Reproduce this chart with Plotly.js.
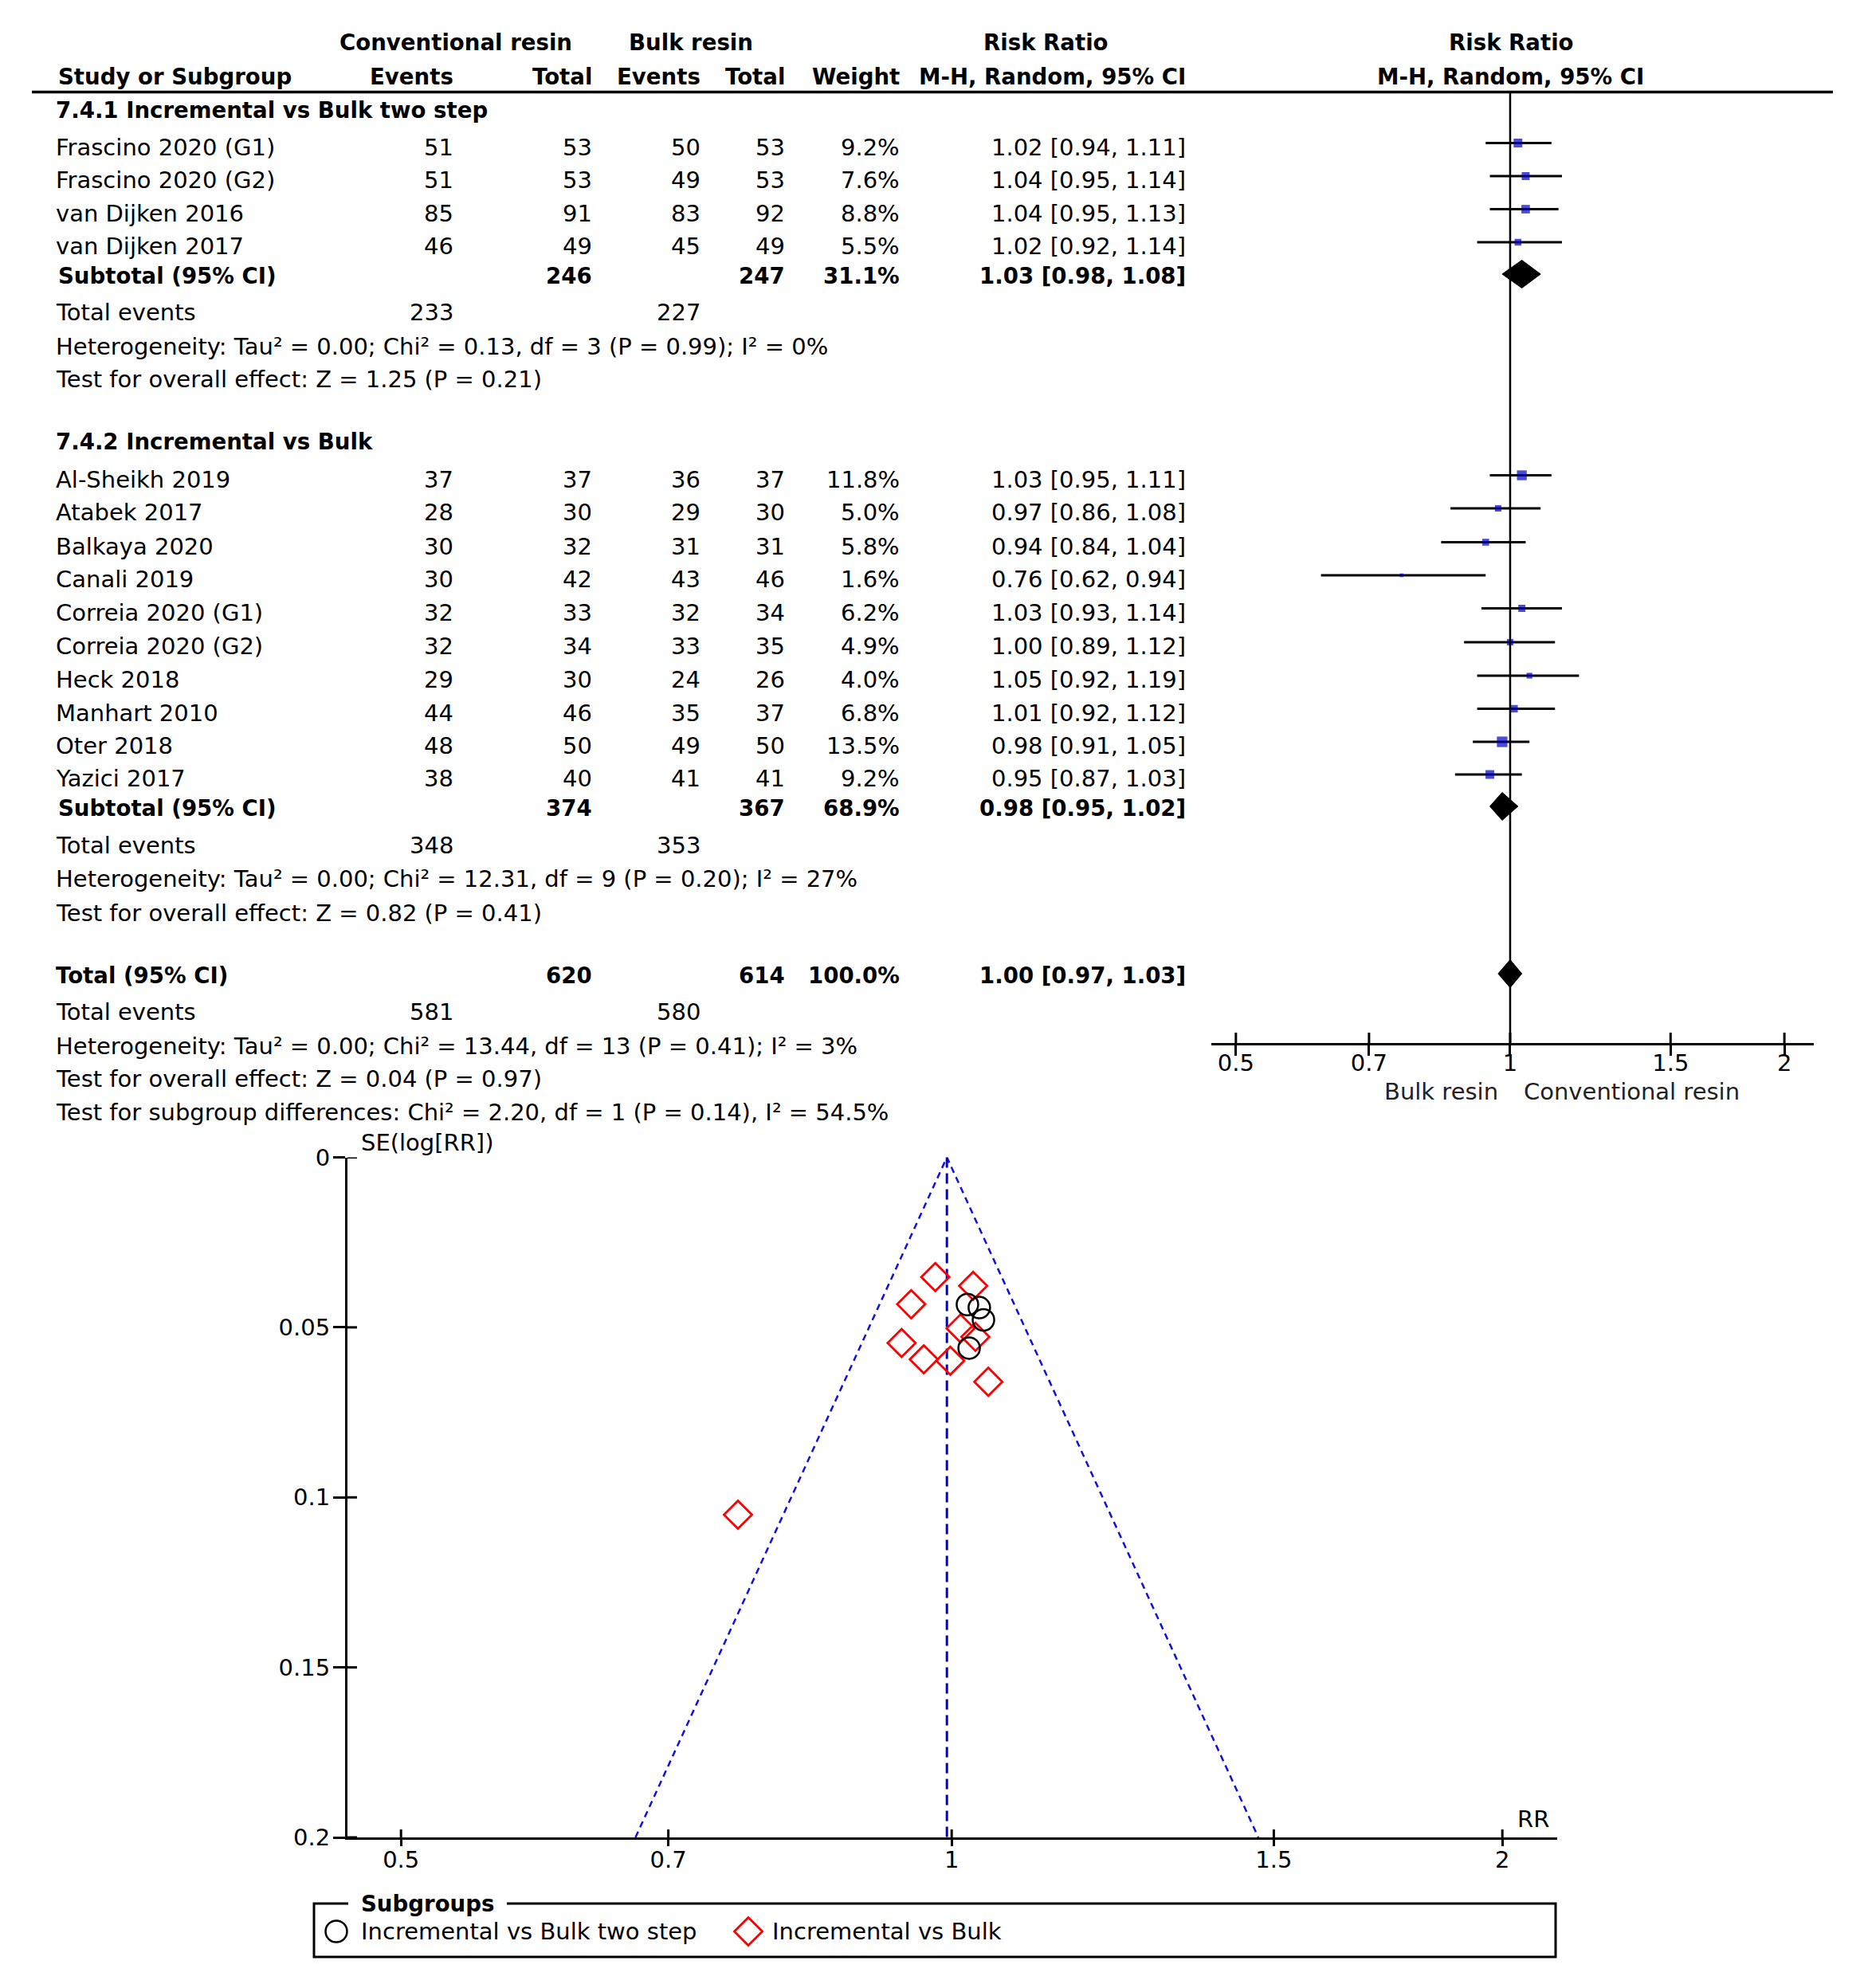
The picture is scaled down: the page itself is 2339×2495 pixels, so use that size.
<!DOCTYPE html>
<html><head><meta charset="utf-8">
<script src="https://cdn.plot.ly/plotly-3.0.1.min.js"></script>
<style>html,body{margin:0;padding:0;background:#fff;}#chart{width:2339px;height:2495px;}</style>
</head><body><div id="chart"></div>
<script>
// ---------------- DATA ----------------
const studies = ["Frascino 2020 (G1)","Frascino 2020 (G2)","van Dijken 2016","van Dijken 2017",
  "Al-Sheikh 2019","Atabek 2017","Balkaya 2020","Canali 2019","Correia 2020 (G1)","Correia 2020 (G2)",
  "Heck 2018","Manhart 2010","Oter 2018","Yazici 2017"];
const subgroupOf = [0,0,0,0,1,1,1,1,1,1,1,1,1,1];
const convEvents = [51,51,85,46,37,28,30,30,32,32,29,44,48,38];
const convTotal  = [53,53,91,49,37,30,32,42,33,34,30,46,50,40];
const bulkEvents = [50,49,83,45,36,29,31,43,32,33,24,35,49,41];
const bulkTotal  = [53,53,92,49,37,30,31,46,34,35,26,37,50,41];
const weights    = [9.2,7.6,8.8,5.5,11.8,5.0,5.8,1.6,6.2,4.9,4.0,6.8,13.5,9.2];
const rr     = [1.02,1.04,1.04,1.02,1.03,0.97,0.94,0.76,1.03,1.00,1.05,1.01,0.98,0.95];
const rrLow  = [0.94,0.95,0.95,0.92,0.95,0.86,0.84,0.62,0.93,0.89,0.92,0.92,0.91,0.87];
const rrHigh = [1.11,1.14,1.13,1.14,1.11,1.08,1.04,0.94,1.14,1.12,1.19,1.12,1.05,1.03];

const subgroupNames = ["7.4.1 Incremental vs Bulk two step","7.4.2 Incremental vs Bulk"];
const subConvTotal = [246,374];
const subBulkTotal = [247,367];
const subWeight = [31.1,68.9];
const subRR = [1.03,0.98];
const subLow = [0.98,0.95];
const subHigh = [1.08,1.02];
const subConvEvents = [233,348];
const subBulkEvents = [227,353];
const subHet = ["Heterogeneity: Tau² = 0.00; Chi² = 0.13, df = 3 (P = 0.99); I² = 0%",
                "Heterogeneity: Tau² = 0.00; Chi² = 12.31, df = 9 (P = 0.20); I² = 27%"];
const subTest = ["Test for overall effect: Z = 1.25 (P = 0.21)",
                 "Test for overall effect: Z = 0.82 (P = 0.41)"];

const totConvTotal = 620, totBulkTotal = 614, totWeight = 100.0;
const totRR = 1.00, totLow = 0.97, totHigh = 1.03;
const totConvEvents = 581, totBulkEvents = 580;
const totHet = "Heterogeneity: Tau² = 0.00; Chi² = 13.44, df = 13 (P = 0.41); I² = 3%";
const totTest = "Test for overall effect: Z = 0.04 (P = 0.97)";
const subDiffText = "Test for subgroup differences: Chi² = 2.20, df = 1 (P = 0.14), I² = 54.5%";

const forestTicks = [0.5,0.7,1,1.5,2];
const forestTickText = ["0.5","0.7","1","1.5","2"];

// funnel plot values (RR and SE(log RR) per study)
const funnelRR = [1.0200,1.0408,1.0354,1.0222,1.0274,0.9655,0.9389,0.7641,1.0303,0.9982,1.0472,1.0112,0.9796,0.9503];
const funnelSE = [0.0433,0.0478,0.0442,0.0561,0.0378,0.0594,0.0546,0.1051,0.0528,0.0598,0.0660,0.0503,0.0352,0.0432];
const pooledRR = 0.994;
const funnelMaxSE = 0.2;
const funnelXTicks = [0.5,0.7,1,1.5,2];
const funnelXTickText = ["0.5","0.7","1","1.5","2"];
const funnelYTicks = [0,0.05,0.1,0.15,0.2];
const funnelYTickText = ["0","0.05","0.1","0.15","0.2"];
const legendLabels = ["Incremental vs Bulk two step","Incremental vs Bulk"];

// ---------------- LAYOUT GEOMETRY (pixels) ----------------
const W = 2339, H = 2495;
const FONT = "DejaVu Sans";
const FS = 29, FSB = 27.6;
const colName = 69, colCE = 570, colCT = 744, colBE = 880, colBT = 986, colW = 1130, colRR = 1489;
const rowsY = [184.5,226,267.5,309, 601.5,643,685.5,727,768.5,811,853,894.5,936,977];
const headY = [138,554], subY = [346,1014], evY = [391.5,1061], hetY = [434.5,1103], testY = [476,1145.5];
const totY = 1224, totEvY = 1270, totHetY = 1312.5, totTestY = 1354, diffY = 1395.5;
const ruleY = 115.5, forestAxisY = 1309;
const fx0 = 1520, fx1 = 2276, fLogRange = [-0.328, 0.3333];
const px0 = 436, px1 = 1954, py0 = 1452.5, py1 = 2306, pLogRange = [-0.3303, 0.3310];
const textDy = 0;
const markDy = -5;

const ann = [];
function txt(x, y, s, anchor, bold, color) {
  ann.push({xref:'x3', yref:'y3', x:x, y:y + textDy, text: bold ? '<b>'+s+'</b>' : s,
    xanchor:anchor, yanchor:'middle', showarrow:false, borderpad:0,
    font:{family:FONT, size: bold ? FSB : FS, color: color || '#000'}});
}
const f2 = v => v.toFixed(2);
const ciText = (r,l,h) => f2(r)+" ["+f2(l)+", "+f2(h)+"]";

// headers
txt(572, 53, "Conventional resin", 'center', true);
txt(867, 53, "Bulk resin", 'center', true);
txt(1312, 53, "Risk Ratio", 'center', true);
txt(1896, 53, "Risk Ratio", 'center', true);
txt(72, 96, "Study or Subgroup", 'left', true);
txt(colCE, 96, "Events", 'right', true);
txt(colCT, 96, "Total", 'right', true);
txt(colBE, 96, "Events", 'right', true);
txt(colBT, 96, "Total", 'right', true);
txt(colW, 96, "Weight", 'right', true);
txt(colRR, 96, "M-H, Random, 95% CI", 'right', true);
txt(1895, 96, "M-H, Random, 95% CI", 'center', true);

for (let g = 0; g < 2; g++) txt(colName, headY[g], subgroupNames[g], 'left', true);
studies.forEach((s, i) => {
  const y = rowsY[i];
  txt(colName, y, s, 'left');
  txt(colCE, y, String(convEvents[i]), 'right');
  txt(colCT, y, String(convTotal[i]), 'right');
  txt(colBE, y, String(bulkEvents[i]), 'right');
  txt(colBT, y, String(bulkTotal[i]), 'right');
  txt(colW, y, weights[i].toFixed(1)+"%", 'right');
  txt(colRR, y, ciText(rr[i], rrLow[i], rrHigh[i]), 'right');
});
for (let g = 0; g < 2; g++) {
  txt(72, subY[g], "Subtotal (95% CI)", 'left', true);
  txt(colCT, subY[g], String(subConvTotal[g]), 'right', true);
  txt(colBT, subY[g], String(subBulkTotal[g]), 'right', true);
  txt(colW, subY[g], subWeight[g].toFixed(1)+"%", 'right', true);
  txt(colRR, subY[g], ciText(subRR[g], subLow[g], subHigh[g]), 'right', true);
  txt(colName, evY[g], "Total events", 'left');
  txt(colCE, evY[g], String(subConvEvents[g]), 'right');
  txt(colBE, evY[g], String(subBulkEvents[g]), 'right');
  txt(colName, hetY[g], subHet[g], 'left');
  txt(colName, testY[g], subTest[g], 'left');
}
txt(colName, totY, "Total (95% CI)", 'left', true);
txt(colCT, totY, String(totConvTotal), 'right', true);
txt(colBT, totY, String(totBulkTotal), 'right', true);
txt(colW, totY, totWeight.toFixed(1)+"%", 'right', true);
txt(colRR, totY, ciText(totRR, totLow, totHigh), 'right', true);
txt(colName, totEvY, "Total events", 'left');
txt(colCE, totEvY, String(totConvEvents), 'right');
txt(colBE, totEvY, String(totBulkEvents), 'right');
txt(colName, totHetY, totHet, 'left');
txt(colName, totTestY, totTest, 'left');
txt(colName, diffY, subDiffText, 'left');

// forest axis side labels
txt(1881, 1370, "Bulk resin", 'right', false, '#222');
txt(1911, 1370, "Conventional resin", 'left', false, '#222');

// funnel labels
txt(452, 1434, "SE(log[RR])", 'left');
txt(1903, 2283, "RR", 'left');
// legend
txt(452, 2389, "Subgroups", 'left', true);
txt(452, 2424, legendLabels[0], 'left');
txt(968, 2424, legendLabels[1], 'left');

// ---------------- TRACES ----------------
const traces = [];
const ciX = [], ciY = [];
studies.forEach((s, i) => { ciX.push(rrLow[i], rrHigh[i], null); ciY.push(rowsY[i]+markDy, rowsY[i]+markDy, null); });
traces.push({type:'scatter', mode:'lines', x:ciX, y:ciY, xaxis:'x', yaxis:'y',
  line:{color:'#000', width:3}, hoverinfo:'skip'});
traces.push({type:'scatter', mode:'markers', x:rr, y:rowsY.map(v => v+markDy), xaxis:'x', yaxis:'y',
  marker:{symbol:'square', color:'#0000c0', size:weights.map(w => 3.6*Math.sqrt(w)), line:{width:0}}, hoverinfo:'skip'});
const dh = 17.5;
function diamond(r, l, h, y) {
  traces.push({type:'scatter', mode:'lines', x:[l, r, h, r, l], y:[y, y-dh, y, y+dh, y],
    xaxis:'x', yaxis:'y', fill:'toself', fillcolor:'#000', line:{color:'#000', width:1}, hoverinfo:'skip'});
}
for (let g = 0; g < 2; g++) diamond(subRR[g], subLow[g], subHigh[g], subY[g]-2);
diamond(totRR, totLow, totHigh, totY-2);
traces.push({type:'scatter', mode:'lines', x:[1,1], y:[ruleY, forestAxisY], xaxis:'x', yaxis:'y',
  line:{color:'#000', width:2.5}, hoverinfo:'skip'});
const ftX = [], ftY = [];
forestTicks.forEach(t => { ftX.push(t, t, null); ftY.push(forestAxisY, forestAxisY-13, null); });
traces.push({type:'scatter', mode:'lines', x:ftX, y:ftY, xaxis:'x', yaxis:'y', line:{color:'#000', width:3}, hoverinfo:'skip'});

// funnel boundaries
const z = 1.96;
const loB = pooledRR*Math.exp(-z*funnelMaxSE), hiB = pooledRR*Math.exp(z*funnelMaxSE);
traces.push({type:'scatter', mode:'lines', x:[loB, pooledRR, hiB], y:[funnelMaxSE, 0, funnelMaxSE],
  xaxis:'x2', yaxis:'y2', line:{color:'#1010e0', width:2.5, dash:'8px,6px'}, hoverinfo:'skip'});
traces.push({type:'scatter', mode:'lines', x:[pooledRR, pooledRR], y:[0, funnelMaxSE],
  xaxis:'x2', yaxis:'y2', line:{color:'#0000d8', width:3, dash:'13px,7px'}, hoverinfo:'skip'});
const g1x = [], g1y = [], g2x = [], g2y = [];
funnelRR.forEach((v, i) => { if (subgroupOf[i] === 0) { g1x.push(v); g1y.push(funnelSE[i]); } else { g2x.push(v); g2y.push(funnelSE[i]); } });
traces.push({type:'scatter', mode:'markers', x:g2x, y:g2y, xaxis:'x2', yaxis:'y2',
  marker:{symbol:'diamond-open', size:27, color:'#ff0000', line:{width:2.8, color:'#ff0000'}}, hoverinfo:'skip'});
traces.push({type:'scatter', mode:'markers', x:g1x, y:g1y, xaxis:'x2', yaxis:'y2',
  marker:{symbol:'circle-open', size:27, color:'#000', line:{width:2.5, color:'#000'}}, hoverinfo:'skip'});
const pxPerDecX = (px1 - px0) / (pLogRange[1] - pLogRange[0]);
const xInner = Math.pow(10, pLogRange[0] + 12/pxPerDecX);
const xLeft = Math.pow(10, pLogRange[0]);
const ytX = [], ytY = [];
funnelYTicks.forEach(t => { ytX.push(xLeft, xInner, null); ytY.push(t, t, null); });
traces.push({type:'scatter', mode:'lines', x:ytX, y:ytY, xaxis:'x2', yaxis:'y2', line:{color:'#000', width:3}, hoverinfo:'skip', cliponaxis:false});
const seUp = 10 / (py1 - py0) * funnelMaxSE;
const xtX = [], xtY = [];
funnelXTicks.forEach(t => { xtX.push(t, t, null); xtY.push(funnelMaxSE, funnelMaxSE - seUp, null); });
traces.push({type:'scatter', mode:'lines', x:xtX, y:xtY, xaxis:'x2', yaxis:'y2', line:{color:'#000', width:3}, hoverinfo:'skip', cliponaxis:false});

// legend symbols (pixel overlay)
traces.push({type:'scatter', mode:'markers', x:[422], y:[2424], xaxis:'x3', yaxis:'y3',
  marker:{symbol:'circle-open', size:27, color:'#000', line:{width:2.5, color:'#000'}}, hoverinfo:'skip'});
traces.push({type:'scatter', mode:'markers', x:[939], y:[2424], xaxis:'x3', yaxis:'y3',
  marker:{symbol:'diamond-open', size:27, color:'#ff0000', line:{width:2.8, color:'#ff0000'}}, hoverinfo:'skip'});

const tickFont = {family:FONT, size:FS, color:'#000'};
const layout = {
  width:W, height:H, margin:{l:0,r:0,t:0,b:0}, paper_bgcolor:'#fff', plot_bgcolor:'rgba(0,0,0,0)',
  showlegend:false, hovermode:false,
  xaxis:{type:'log', range:fLogRange, domain:[fx0/W, fx1/W], anchor:'y',
    tickvals:forestTicks, ticktext:forestTickText, ticks:'outside', ticklen:13, tickwidth:3, tickcolor:'#000',
    ticklabelstandoff:-16,
    showline:true, linewidth:3, linecolor:'#000', showgrid:false, zeroline:false, tickfont:tickFont, fixedrange:true},
  yaxis:{range:[forestAxisY, ruleY], domain:[1-forestAxisY/H, 1-ruleY/H], anchor:'x', visible:false, fixedrange:true},
  xaxis2:{type:'log', range:pLogRange, domain:[px0/W, px1/W], anchor:'y2',
    tickvals:funnelXTicks, ticktext:funnelXTickText, ticks:'outside', ticklen:8, tickwidth:3, tickcolor:'#000',
    ticklabelstandoff:-8,
    showline:true, linewidth:3, linecolor:'#000', showgrid:false, zeroline:false, tickfont:tickFont, fixedrange:true},
  yaxis2:{range:[funnelMaxSE, 0], domain:[1-py1/H, 1-py0/H], anchor:'x2',
    tickvals:funnelYTicks, ticktext:funnelYTickText, ticks:'outside', ticklen:15, tickwidth:3, tickcolor:'#000',
    ticklabelstandoff:-2,
    showline:true, linewidth:3, linecolor:'#000', showgrid:false, zeroline:false, tickfont:tickFont, fixedrange:true},
  xaxis3:{range:[0,W], domain:[0,1], anchor:'y3', visible:false, fixedrange:true},
  yaxis3:{range:[H,0], domain:[0,1], anchor:'x3', visible:false, fixedrange:true},
  shapes:[
    {type:'line', xref:'x3', yref:'y3', x0:40, x1:2300, y0:ruleY, y1:ruleY, line:{color:'#000', width:3.5}},
    {type:'rect', xref:'x3', yref:'y3', x0:394, x1:1952, y0:2389, y1:2456, line:{color:'#000', width:3}},
    {type:'rect', xref:'x3', yref:'y3', x0:437, x1:636, y0:2382, y1:2396, fillcolor:'#fff', line:{width:0}}
  ],
  annotations:ann
};
Plotly.newPlot('chart', traces, layout, {staticPlot:true, displayModeBar:false});
</script>
</body></html>
